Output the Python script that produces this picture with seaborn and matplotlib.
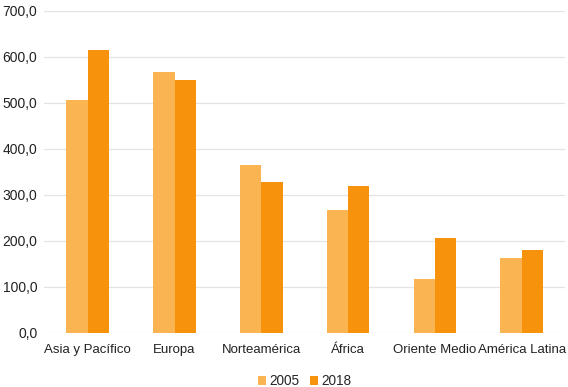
import matplotlib
matplotlib.use("Agg")
import matplotlib.pyplot as plt
import matplotlib.ticker as mticker
import pandas as pd
import seaborn as sns

# data
regions = ["Asia y Pacífico", "Europa", "Norteamérica", "África", "Oriente Medio", "América Latina"]
years = ["2005", "2018"]
values_2005 = [506, 567, 364, 267, 118, 163]
values_2018 = [615, 549, 327, 320, 207, 181]

df = pd.DataFrame({
    "region": regions * 2,
    "year": [years[0]] * len(regions) + [years[1]] * len(regions),
    "value": values_2005 + values_2018,
})

sns.set_theme(style="white")
plt.rcParams["font.family"] = ["Liberation Sans", "DejaVu Sans"]

fig, ax = plt.subplots(figsize=(5.68, 3.87), dpi=100)
fig.subplots_adjust(left=0.078, right=0.995, top=0.972, bottom=0.14)

sns.barplot(
    data=df, x="region", y="value", hue="year",
    palette=["#FBB452", "#F7920C"], width=0.49, gap=0,
    saturation=1, linewidth=0, ax=ax, legend=True,
)

ax.set_ylim(0, 700)
ax.yaxis.set_major_locator(mticker.MultipleLocator(100))
ax.yaxis.set_major_formatter(mticker.FuncFormatter(lambda v, p: f"{v:.1f}".replace(".", ",")))
ax.grid(axis="y", color="#E3E3E3", linewidth=0.9)
ax.set_axisbelow(True)
for s in ax.spines.values():
    s.set_visible(False)
ax.set_xlabel("")
ax.set_ylabel("")
ax.tick_params(axis="both", length=0, colors="#222222")
ax.tick_params(axis="x", pad=8, labelsize=9.5)
ax.tick_params(axis="y", pad=5, labelsize=10)

handles, labels = ax.get_legend_handles_labels()
ax.legend(handles, labels, loc="upper center", bbox_to_anchor=(0.5, -0.09),
          ncol=2, frameon=False, fontsize=9.8, handlelength=0.6, handleheight=0.6,
          handletextpad=0.2, columnspacing=0.8)

fig.savefig("out.png", dpi=100)
